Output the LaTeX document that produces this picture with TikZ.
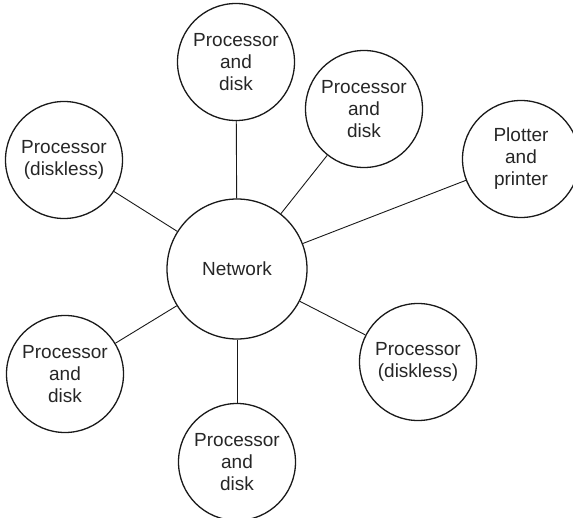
\documentclass[tikz,border=0pt]{standalone}
\usepackage{fontspec}
\setmainfont{Liberation Sans}
\begin{document}
\begin{tikzpicture}[x=1pt,y=-1pt,
  unit/.style={circle,draw=black!90,line width=1.3pt,minimum size=117pt,inner sep=0pt,
    align=center,text=black!85,font=\fontsize{19}{22}\selectfont},
  link/.style={draw=black!90,line width=0.9pt}]
\useasboundingbox (0,0) rectangle (573,518);
\node[unit,minimum size=140pt] (net) at (237,269) {Network};
\node[unit] (top) at (236,62) {Processor\\and\\disk};
\node[unit] (tr) at (364,109) {Processor\\and\\disk};
\node[unit] (plot) at (521,159) {Plotter\\and\\printer};
\node[unit] (left) at (64,160) {Processor\\(diskless)};
\node[unit] (bl) at (65,374) {Processor\\and\\disk};
\node[unit] (bot) at (237,462) {Processor\\and\\disk};
\node[unit] (br) at (418,362) {Processor\\(diskless)};
\foreach \n in {top,tr,plot,left,bl,bot,br}
  \draw[link] (net) -- (\n);
\end{tikzpicture}
\end{document}
